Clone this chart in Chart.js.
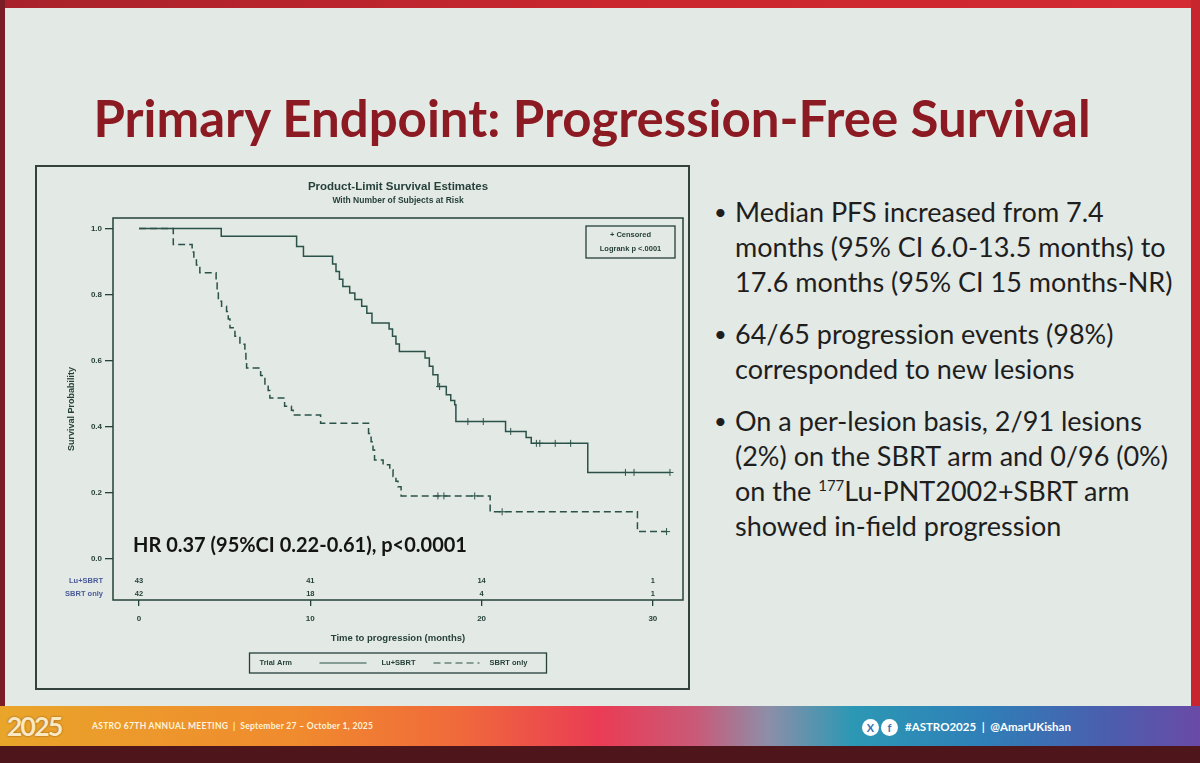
<!DOCTYPE html>
<html>
<head>
<meta charset="utf-8">
<script src="https://cdn.jsdelivr.net/npm/chart.js@4.4.0/dist/chart.umd.min.js"></script>
<style>
  html, body { margin: 0; padding: 0; }
  body {
    width: 1200px; height: 763px; overflow: hidden; position: relative;
    background: #e3e9e5;
    font-family: Lato, "Open Sans", sans-serif;
  }
  .edge-top { position: absolute; left: 0; top: 0; width: 1200px; height: 8px; background: linear-gradient(90deg, #a8222b, #c9262e 50%, #d42a34); }
  .edge-left { position: absolute; left: 0; top: 0; width: 5px; height: 706px; background: #7a1d24; }
  .edge-right { position: absolute; right: 0; top: 0; width: 9px; height: 706px; background: #c8262f; }
  .title {
    position: absolute; left: 0; top: 89px; width: 1184px; text-align: center;
    font-weight: 700; font-size: 51px; line-height: 58px; color: #8c1a22;
  }
  #kmChart { position: absolute; left: 35px; top: 165px; }
  .chart-frame {
    position: absolute; left: 35px; top: 165px; width: 655px; height: 525px;
    box-sizing: border-box; border: 2px solid #33423d; pointer-events: none;
  }
  .hr-note {
    position: absolute; left: 133px; top: 531px;
    font-weight: 700; font-size: 20px; line-height: 26px; color: #141414;
  }
  .bullets { position: absolute; left: 713px; top: 194px; width: 485px; color: #1e1e1e; font-size: 27px; line-height: 35px; }
  .bullets .item { position: relative; padding-left: 22px; margin-bottom: 17px; white-space: nowrap; }
  .bullets .item::before { content: "\2022"; position: absolute; left: 1px; top: 0; font-size: 22px; }
  .bullets sup { font-size: 15px; line-height: 0; vertical-align: 10px; }
  .footer {
    position: absolute; left: 0; top: 706px; width: 1200px; height: 40px;
    background: linear-gradient(90deg, #e9a52a 0%, #f08a2e 25%, #f06a3a 38%, #ea3c55 50%, #c95a78 58%, #8d8ea8 64%, #2c98b4 71%, #2f7fb8 82%, #4a5fae 92%, #6a4aa6 100%);
  }
  .footer-bottom { position: absolute; left: 0; top: 746px; width: 1200px; height: 17px; background: #4e151b; }
  .logo {
    position: absolute; left: 6px; top: 708px; width: 56px; height: 36px; text-align: center;
    font-weight: 700; font-size: 27px; line-height: 36px; color: #fbe7c0; letter-spacing: -2px;
    text-shadow: 0 0 2px #7a4a10;
  }
  .meeting {
    position: absolute; left: 92px; top: 720px; font-weight: 700; font-size: 8.5px; line-height: 12px;
    color: #fff4dc; letter-spacing: 0.3px;
  }
  .social { position: absolute; left: 862px; top: 716px; height: 20px; color: #fff; font-weight: 700; font-size: 11.5px; line-height: 20px; }
  .social .ic {
    display: inline-block; width: 17px; height: 17px; border-radius: 50%; background: #fff; color: #3a6fb0;
    text-align: center; line-height: 17px; font-size: 11px; margin-right: 2px; vertical-align: middle;
  }
  .social .tag { vertical-align: middle; margin-left: 5px; }
</style>
</head>
<body>
<div class="edge-top"></div>
<div class="edge-left"></div>
<div class="edge-right"></div>

<div class="title">Primary Endpoint: Progression-Free Survival</div>

<canvas id="kmChart" width="655" height="525"></canvas>
<div class="chart-frame"></div>
<div class="hr-note">HR 0.37 (95%CI 0.22-0.61), p&lt;0.0001</div>

<div class="bullets">
  <div class="item">Median PFS increased from 7.4<br>months (95% CI 6.0-13.5 months) to<br>17.6 months (95% CI 15 months-NR)</div>
  <div class="item">64/65 progression events (98%)<br>corresponded to new lesions</div>
  <div class="item">On a per-lesion basis, 2/91 lesions<br>(2%) on the SBRT arm and 0/96 (0%)<br>on the <sup>177</sup>Lu-PNT2002+SBRT arm<br>showed in-field progression</div>
</div>

<div class="footer"></div>
<div class="footer-bottom"></div>
<div class="logo">2025</div>
<div class="meeting">ASTRO 67TH ANNUAL MEETING &nbsp;|&nbsp; September 27 – October 1, 2025</div>
<div class="social"><span class="ic">X</span><span class="ic">f</span><span class="tag">#ASTRO2025 &nbsp;|&nbsp; @AmarUKishan</span></div>

<script>
// Lu+SBRT arm: step times (months) and survival after each step
const luTimes = [0, 4.8, 9.2, 9.6, 11.3, 11.5, 11.7, 11.9, 12.3, 12.6, 13.0, 13.3, 13.6, 14.6, 14.8, 15.0, 15.2,
                 16.7, 16.95, 17.16, 17.45, 17.94, 18.2, 18.43, 18.5, 21.4, 22.6, 22.9, 26.2, 31.0];
const luSurv  = [1.0, 0.977, 0.946, 0.916, 0.893, 0.870, 0.847, 0.825, 0.805, 0.785, 0.765, 0.744, 0.714, 0.696, 0.674, 0.651, 0.628,
                 0.608, 0.583, 0.558, 0.522, 0.497, 0.480, 0.467, 0.416, 0.386, 0.368, 0.350, 0.262, 0.262];
const luCensored = [17.55, 19.2, 20.1, 21.7, 23.2, 23.4, 24.3, 25.2, 28.4, 28.9, 31.0];

// SBRT only arm
const sbrtTimes = [0, 2.0, 3.1, 3.2, 3.35, 3.55, 4.5, 4.56, 4.63, 4.82, 5.11, 5.21, 5.31, 5.6, 5.89, 6.18, 6.24, 6.28,
                   7.1, 7.35, 7.54, 7.64, 8.5, 8.9, 9.0, 10.6, 13.4, 13.55, 13.66, 13.75, 14.25, 14.64, 14.83, 15.0, 15.12, 15.3,
                   20.5, 29.1, 30.8];
const sbrtSurv  = [1.0, 0.952, 0.929, 0.905, 0.890, 0.866, 0.835, 0.810, 0.780, 0.765, 0.749, 0.726, 0.700, 0.674, 0.650, 0.628, 0.600, 0.578,
                   0.555, 0.530, 0.510, 0.487, 0.462, 0.450, 0.436, 0.411, 0.380, 0.355, 0.330, 0.300, 0.285, 0.270, 0.250, 0.235, 0.219, 0.191,
                   0.143, 0.083, 0.083];
const sbrtCensored = [17.45, 17.8, 19.6, 21.2, 30.8];

// number at risk table
const riskTimes  = [0, 10, 20, 30];
const luAtRisk   = [43, 41, 14, 1];
const sbrtAtRisk = [42, 18, 4, 1];

const xTicks = [0, 10, 20, 30];
const yTicks = [0, 0.2, 0.4, 0.6, 0.8, 1.0];

const lineColor = '#2b5249';
const inkColor = '#26403a';
const armLabelColor = '#4a5a98';
const chartFont = '"Liberation Sans", Arial, sans-serif';

// survival value of a step curve at time t (for placing censor marks on it)
function survAt(times, surv, t) {
    let s = surv[0];
    for (let i = 0; i < times.length; i++) {
        if (times[i] <= t) s = surv[i];
    }
    return s;
}

const toPoints = (times, surv) => times.map((t, i) => ({ x: t, y: surv[i] }));
const censorPoints = (times, surv, cens) => cens.map(t => ({ x: t, y: survAt(times, surv, t) }));

// frame, risk table, censor box and trial arm legend
const kmExtras = {
    id: 'kmExtras',
    afterDraw(chart) {
        const { ctx, chartArea: a, scales: { x, y } } = chart;
        ctx.save();
        ctx.strokeStyle = inkColor;
        ctx.lineWidth = 1.5;
        ctx.strokeRect(a.left, a.top, a.right - a.left, a.bottom - a.top);

        // number at risk
        ctx.textBaseline = 'middle';
        const luRow = y.getPixelForValue(-0.067);
        const sbrtRow = y.getPixelForValue(-0.106);
        ctx.font = 'bold 7.5px ' + chartFont;
        ctx.fillStyle = armLabelColor;
        ctx.textAlign = 'right';
        ctx.fillText('Lu+SBRT', a.left - 10, luRow);
        ctx.fillText('SBRT only', a.left - 10, sbrtRow);
        ctx.fillStyle = inkColor;
        ctx.textAlign = 'center';
        riskTimes.forEach((t, i) => {
            const px = x.getPixelForValue(t);
            ctx.fillText(String(luAtRisk[i]), px, luRow);
            ctx.fillText(String(sbrtAtRisk[i]), px, sbrtRow);
        });

        // censored / logrank box
        const bw = 89, bh = 32;
        const bx = a.right - 8 - bw, by = a.top + 8;
        ctx.lineWidth = 1.3;
        ctx.strokeRect(bx, by, bw, bh);
        ctx.font = 'bold 7.5px ' + chartFont;
        ctx.fillText('+ Censored', bx + bw / 2, by + 9);
        ctx.fillText('Logrank p <.0001', bx + bw / 2, by + 23);

        // trial arm legend
        const lw = 297, lh = 20;
        const lx = (a.left + a.right) / 2 - lw / 2, ly = a.bottom + 53;
        ctx.lineWidth = 1.3;
        ctx.strokeRect(lx, ly, lw, lh);
        ctx.font = 'bold 7.5px ' + chartFont;
        ctx.textAlign = 'left';
        const my = ly + lh / 2;
        ctx.fillText('Trial Arm', lx + 10, my);
        ctx.fillText('Lu+SBRT', lx + 132, my);
        ctx.fillText('SBRT only', lx + 240, my);
        ctx.strokeStyle = lineColor;
        ctx.lineWidth = 1.2;
        ctx.beginPath();
        ctx.moveTo(lx + 70, my); ctx.lineTo(lx + 117, my);
        ctx.stroke();
        ctx.setLineDash([7, 4]);
        ctx.beginPath();
        ctx.moveTo(lx + 184, my); ctx.lineTo(lx + 230, my);
        ctx.stroke();
        ctx.restore();
    }
};

function initializeKmChart() {
    const ctx = document.getElementById('kmChart');

    const kmData = {
        datasets: [
            {
                label: 'Lu+SBRT',
                data: toPoints(luTimes, luSurv),
                stepped: true,
                borderColor: lineColor,
                borderWidth: 1.5,
                pointRadius: 0,
                fill: false
            },
            {
                label: 'SBRT only',
                data: toPoints(sbrtTimes, sbrtSurv),
                stepped: true,
                borderColor: lineColor,
                borderWidth: 1.5,
                borderDash: [7, 4],
                pointRadius: 0,
                fill: false
            },
            {
                label: 'Censored Lu+SBRT',
                data: censorPoints(luTimes, luSurv, luCensored),
                showLine: false,
                pointStyle: 'cross',
                pointRadius: 3.5,
                borderColor: lineColor,
                borderWidth: 1
            },
            {
                label: 'Censored SBRT only',
                data: censorPoints(sbrtTimes, sbrtSurv, sbrtCensored),
                showLine: false,
                pointStyle: 'cross',
                pointRadius: 3.5,
                borderColor: lineColor,
                borderWidth: 1
            }
        ]
    };

    new Chart(ctx, {
        type: 'line',
        data: kmData,
        plugins: [kmExtras],
        options: {
            responsive: false,
            animation: false,
            layout: { padding: { left: 0, right: 7, top: 0, bottom: 0 } },
            plugins: {
                legend: { display: false },
                tooltip: { enabled: false },
                title: {
                    display: true,
                    fullSize: false,
                    text: 'Product-Limit Survival Estimates',
                    color: inkColor,
                    font: { family: chartFont, size: 11.5, weight: 'bold' },
                    padding: { top: 15, bottom: 2 }
                },
                subtitle: {
                    display: true,
                    fullSize: false,
                    text: 'With Number of Subjects at Risk',
                    color: inkColor,
                    font: { family: chartFont, size: 8.5, weight: 'bold' },
                    padding: { top: 0, bottom: 12 }
                }
            },
            scales: {
                x: {
                    type: 'linear',
                    min: -1.52,
                    max: 31.76,
                    afterBuildTicks: s => { s.ticks = xTicks.map(v => ({ value: v })); },
                    afterFit: s => { s.height = 90; },
                    grid: { drawOnChartArea: false, tickLength: 6, color: inkColor, lineWidth: 1.3 },
                    border: { display: false },
                    ticks: { color: inkColor, padding: 8, maxRotation: 0, font: { family: chartFont, size: 8, weight: 'bold' } },
                    title: {
                        display: true,
                        text: 'Time to progression (months)',
                        color: inkColor,
                        font: { family: chartFont, size: 9.5, weight: 'bold' },
                        padding: { top: 0, bottom: 46 }
                    }
                },
                y: {
                    type: 'linear',
                    min: -0.124,
                    max: 1.032,
                    afterBuildTicks: s => { s.ticks = yTicks.map(v => ({ value: v })); },
                    afterFit: s => { s.width = 78; },
                    grid: { drawOnChartArea: false, tickLength: 8, color: inkColor, lineWidth: 1.3 },
                    border: { display: false },
                    ticks: {
                        color: inkColor,
                        padding: 3,
                        font: { family: chartFont, size: 8, weight: 'bold' },
                        callback: v => Number(v).toFixed(1)
                    },
                    title: {
                        display: true,
                        text: 'Survival Probability',
                        color: inkColor,
                        font: { family: chartFont, size: 9, weight: 'bold' },
                        padding: { top: 31, bottom: 0 }
                    }
                }
            }
        }
    });
}

document.addEventListener('DOMContentLoaded', () => {
    initializeKmChart();
});
</script>
</body>
</html>
